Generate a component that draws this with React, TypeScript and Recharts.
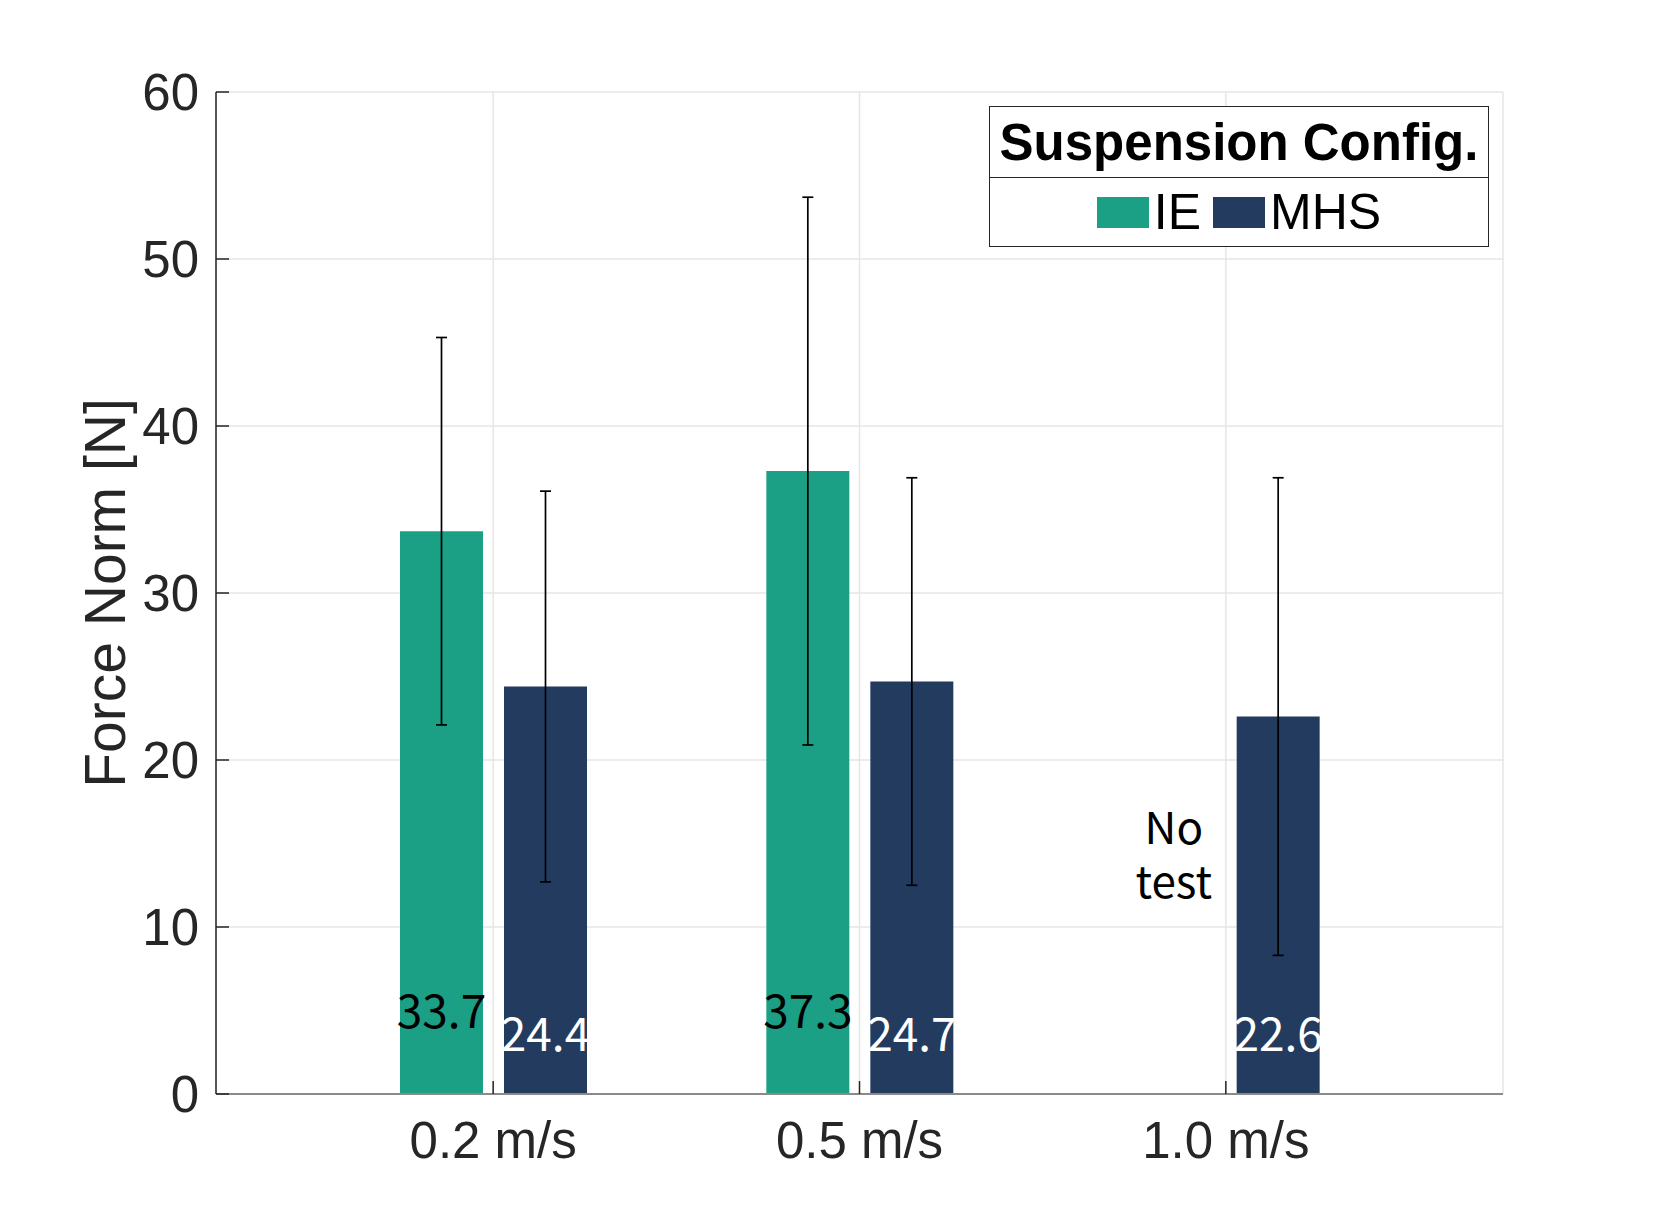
import {
  BarChart,
  Bar,
  XAxis,
  YAxis,
  CartesianGrid,
  ErrorBar,
  LabelList,
  Legend,
  ReferenceDot,
} from 'recharts'

const categories = ['0.2 m/s', '0.5 m/s', '1.0 m/s']
const ieMean = [33.7, 37.3, null]
const ieStd = [11.6, 16.4, null]
const mhsMean = [24.4, 24.7, 22.6]
const mhsStd = [11.7, 12.2, 14.3]
const yTicks = [0, 10, 20, 30, 40, 50, 60]

const IE_COLOR = '#1b9f85'
const MHS_COLOR = '#233b5e'
const AXIS_COLOR = '#262626'
const SANS = "'Liberation Sans', Arial, Helvetica, sans-serif"
const LABEL_FONT = "'Noto Sans CJK JP', 'Noto Sans', sans-serif"

const data = categories.map((name, i) => ({
  name,
  ie: ieMean[i],
  ieStd: ieStd[i],
  mhs: mhsMean[i],
  mhsStd: mhsStd[i],
}))

// Value printed inside the bar, near its foot
function valueLabel(color: string, lift: number) {
  return (props: any) => {
    const { x, y, width, height, value } = props
    if (value == null) return null
    return (
      <text
        x={x + width / 2}
        y={y + height - lift}
        fill={color}
        textAnchor="middle"
        dominantBaseline="central"
        fontSize={46}
        fontFamily={LABEL_FONT}
      >
        {Number(value).toFixed(1)}
      </text>
    )
  }
}

// "No test" note where the missing IE bar would sit
function noTestShape(props: any) {
  const { cx, cy } = props
  const x = cx - 52
  return (
    <g>
      <text
        x={x}
        y={cy}
        textAnchor="middle"
        fontSize={44}
        fontFamily={LABEL_FONT}
        fill="#000"
      >
        No
      </text>
      <text
        x={x}
        y={cy + 54}
        textAnchor="middle"
        fontSize={44}
        fontFamily={LABEL_FONT}
        fill="#000"
      >
        test
      </text>
    </g>
  )
}

function yLabel(props: any) {
  const cy = props.viewBox.y + props.viewBox.height / 2
  const x = 125
  return (
    <text
      x={x}
      y={cy}
      transform={`rotate(-90 ${x} ${cy})`}
      textAnchor="middle"
      fontSize={57}
      fontFamily={SANS}
      fill={AXIS_COLOR}
    >
      Force Norm [N]
    </text>
  )
}

function renderLegend(props: any) {
  const items = props.payload || []
  return (
    <div
      style={{
        width: 500,
        height: 141,
        boxSizing: 'border-box',
        border: `1.5px solid ${AXIS_COLOR}`,
        background: '#fff',
        fontFamily: SANS,
        color: '#000',
      }}
    >
      <div
        style={{
          height: 70,
          borderBottom: `1.5px solid ${AXIS_COLOR}`,
          display: 'flex',
          alignItems: 'center',
          justifyContent: 'center',
          fontWeight: 'bold',
          fontSize: 51,
          lineHeight: 1,
        }}
      >
        Suspension Config.
      </div>
      <div
        style={{
          height: 68,
          display: 'flex',
          alignItems: 'center',
          justifyContent: 'center',
          fontSize: 50,
          lineHeight: 1,
        }}
      >
        {items.map((item: any, i: number) => (
          <div
            key={item.value}
            style={{
              display: 'flex',
              alignItems: 'center',
              marginLeft: i === 0 ? 0 : 12,
            }}
          >
            <span
              style={{
                display: 'inline-block',
                width: 52,
                height: 31,
                background: item.color,
                marginRight: 5,
              }}
            />
            <span>{item.value}</span>
          </div>
        ))}
      </div>
    </div>
  )
}

export default function App() {
  return (
    <div style={{ position: 'absolute', left: 0, top: 0, background: '#fff' }}>
      <BarChart
        width={1660}
        height={1229}
        data={data}
        margin={{ top: 92, right: 157, left: 0, bottom: 35 }}
        barSize={83}
        barGap={21}
      >
        <CartesianGrid stroke="#e6e6e6" strokeWidth={1.5} />
        <XAxis
          dataKey="name"
          height={100}
          padding={{ left: 94, right: 94 }}
          tick={{ fill: AXIS_COLOR, fontSize: 51, fontFamily: SANS }}
          tickSize={-13}
          tickMargin={41}
          tickLine={{ stroke: AXIS_COLOR, strokeWidth: 1.5 }}
          axisLine={{ stroke: '#8a8a8a', strokeWidth: 2 }}
        />
        <YAxis
          width={216}
          type="number"
          domain={[0, 60]}
          ticks={yTicks}
          interval={0}
          tick={{ fill: AXIS_COLOR, fontSize: 51, fontFamily: SANS }}
          tickSize={-13}
          tickMargin={30}
          tickLine={{ stroke: AXIS_COLOR, strokeWidth: 1.5 }}
          axisLine={{ stroke: AXIS_COLOR, strokeWidth: 1.5 }}
          label={{ content: yLabel }}
        />
        <Legend
          layout="horizontal"
          verticalAlign="middle"
          align="center"
          content={renderLegend}
          wrapperStyle={{ left: 989, top: 106, width: 500, height: 141 }}
        />
        <Bar dataKey="ie" name="IE" fill={IE_COLOR} isAnimationActive={false}>
          <ErrorBar
            dataKey="ieStd"
            direction="y"
            width={5.5}
            stroke="#000"
            strokeWidth={1.7}
            isAnimationActive={false}
          />
          <LabelList dataKey="ie" content={valueLabel('#000', 86)} />
        </Bar>
        <Bar dataKey="mhs" name="MHS" fill={MHS_COLOR} isAnimationActive={false}>
          <ErrorBar
            dataKey="mhsStd"
            direction="y"
            width={5.5}
            stroke="#000"
            strokeWidth={1.7}
            isAnimationActive={false}
          />
          <LabelList dataKey="mhs" content={valueLabel('#fff', 63)} />
        </Bar>
        <ReferenceDot
          x="1.0 m/s"
          y={15}
          r={0}
          shape={noTestShape}
          isFront
        />
      </BarChart>
    </div>
  )
}
